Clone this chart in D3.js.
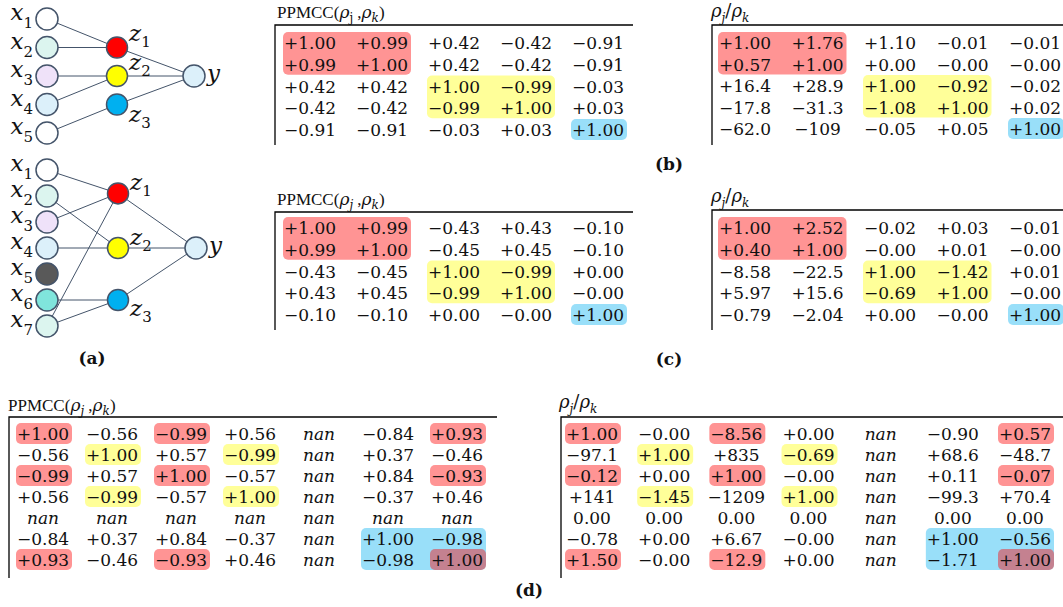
<!DOCTYPE html>
<html>
<head>
<meta charset="utf-8">
<script src="https://cdn.jsdelivr.net/npm/d3@7"></script>
<style>
  body { margin: 0; background: #fff; }
  svg { display: block; }
</style>
</head>
<body>
<div id="wrapper"></div>
<script>
// network (a): input subscripts, node fills, input->hidden edges
const topInputs = ["1", "2", "3", "4", "5"];
const topInputColors = ["#ffffff", "#dcf5ef", "#efe2f9", "#dcf0fa", "#ffffff"];
const topEdges = [[0, 0], [1, 0], [2, 1], [3, 1], [4, 2]];
const topHiddenRows = [1, 2, 3];
const topOutRow = 2;

const botInputs = ["1", "2", "3", "4", "5", "6", "7"];
const botInputColors = ["#ffffff", "#dcf5ef", "#efe2f9", "#dcf0fa", "#595959", "#80e5dc", "#dcf5ef"];
const botEdges = [[0, 0], [1, 1], [2, 0], [3, 1], [5, 2], [6, 0], [6, 2]];
const botHiddenRows = [0.9, 3, 5];
const botOutRow = 3;

const hiddenNames = ["1", "2", "3"];
const hiddenColors = ["#ff0000", "#ffff00", "#00b0f0"];
const outColor = "#dcf0fa";

// tables
const ppmccB = [
  ["+1.00", "+0.99", "+0.42", "-0.42", "-0.91"],
  ["+0.99", "+1.00", "+0.42", "-0.42", "-0.91"],
  ["+0.42", "+0.42", "+1.00", "-0.99", "-0.03"],
  ["-0.42", "-0.42", "-0.99", "+1.00", "+0.03"],
  ["-0.91", "-0.91", "-0.03", "+0.03", "+1.00"]
];
const ratioB = [
  ["+1.00", "+1.76", "+1.10", "-0.01", "-0.01"],
  ["+0.57", "+1.00", "+0.00", "-0.00", "-0.00"],
  ["+16.4", "+28.9", "+1.00", "-0.92", "-0.02"],
  ["-17.8", "-31.3", "-1.08", "+1.00", "+0.02"],
  ["-62.0", "-109", "-0.05", "+0.05", "+1.00"]
];
const ppmccC = [
  ["+1.00", "+0.99", "-0.43", "+0.43", "-0.10"],
  ["+0.99", "+1.00", "-0.45", "+0.45", "-0.10"],
  ["-0.43", "-0.45", "+1.00", "-0.99", "+0.00"],
  ["+0.43", "+0.45", "-0.99", "+1.00", "-0.00"],
  ["-0.10", "-0.10", "+0.00", "-0.00", "+1.00"]
];
const ratioC = [
  ["+1.00", "+2.52", "-0.02", "+0.03", "-0.01"],
  ["+0.40", "+1.00", "-0.00", "+0.01", "-0.00"],
  ["-8.58", "-22.5", "+1.00", "-1.42", "+0.01"],
  ["+5.97", "+15.6", "-0.69", "+1.00", "-0.00"],
  ["-0.79", "-2.04", "+0.00", "-0.00", "+1.00"]
];
const ppmccD = [
  ["+1.00", "-0.56", "-0.99", "+0.56", "nan", "-0.84", "+0.93"],
  ["-0.56", "+1.00", "+0.57", "-0.99", "nan", "+0.37", "-0.46"],
  ["-0.99", "+0.57", "+1.00", "-0.57", "nan", "+0.84", "-0.93"],
  ["+0.56", "-0.99", "-0.57", "+1.00", "nan", "-0.37", "+0.46"],
  ["nan", "nan", "nan", "nan", "nan", "nan", "nan"],
  ["-0.84", "+0.37", "+0.84", "-0.37", "nan", "+1.00", "-0.98"],
  ["+0.93", "-0.46", "-0.93", "+0.46", "nan", "-0.98", "+1.00"]
];
const ratioD = [
  ["+1.00", "-0.00", "-8.56", "+0.00", "nan", "-0.90", "+0.57"],
  ["-97.1", "+1.00", "+835", "-0.69", "nan", "+68.6", "-48.7"],
  ["-0.12", "+0.00", "+1.00", "-0.00", "nan", "+0.11", "-0.07"],
  ["+141", "-1.45", "-1209", "+1.00", "nan", "-99.3", "+70.4"],
  ["0.00", "0.00", "0.00", "0.00", "nan", "0.00", "0.00"],
  ["-0.78", "+0.00", "+6.67", "-0.00", "nan", "+1.00", "-0.56"],
  ["+1.50", "-0.00", "-12.9", "+0.00", "nan", "-1.71", "+1.00"]
];

// highlight blocks [row0, row1, col0, col1, colour]
const highlightBC = [[0, 1, 0, 1, "red"], [2, 3, 2, 3, "yellow"], [4, 4, 4, 4, "blue"]];
const highlightD = [
  [5, 6, 5, 6, "blue"],
  [0, 0, 0, 0, "red"], [0, 0, 2, 2, "red"], [0, 0, 6, 6, "red"],
  [2, 2, 0, 0, "red"], [2, 2, 2, 2, "red"], [2, 2, 6, 6, "red"],
  [6, 6, 0, 0, "red"], [6, 6, 2, 2, "red"], [6, 6, 6, 6, "red"],
  [1, 1, 1, 1, "yellow"], [1, 1, 3, 3, "yellow"], [3, 3, 1, 1, "yellow"], [3, 3, 3, 3, "yellow"]
];
const hlColors = { red: "#ff0000", yellow: "#ffff00", blue: "#00b0f0" };

const width = 1063, height = 607;
const svg = d3.select("#wrapper").append("svg")
  .attr("width", width)
  .attr("height", height);

const mathFont = "'DejaVu Serif', serif";
const strokeCol = "#44546a";

// ---------- networks ----------
function drawNet(cfg) {
  const g = svg.append("g");
  const layerX = d3.scaleLinear().domain([0, 1, 2]).range(cfg.layerX);
  const rowY = d3.scaleLinear().domain([0, cfg.inputs.length - 1]).range(cfg.rowRange);

  const inPos = cfg.inputs.map((d, i) => ({ x: layerX(0), y: rowY(i) }));
  const hidPos = cfg.hiddenRows.map(r => ({ x: layerX(1), y: rowY(r) }));
  const outPos = { x: layerX(2), y: rowY(cfg.outRow) };

  const lines = cfg.edges.map(([a, b]) => [inPos[a], hidPos[b]])
    .concat(hidPos.map(h => [h, outPos]));

  g.selectAll("line.edge").data(lines).join("line")
    .attr("x1", d => d[0].x).attr("y1", d => d[0].y)
    .attr("x2", d => d[1].x).attr("y2", d => d[1].y)
    .attr("stroke", strokeCol).attr("stroke-width", 1);

  g.selectAll("circle.in").data(inPos).join("circle")
    .attr("cx", d => d.x).attr("cy", d => d.y).attr("r", 11)
    .attr("fill", (d, i) => cfg.colors[i])
    .attr("stroke", strokeCol).attr("stroke-width", 1.5);

  g.selectAll("circle.hid").data(hidPos).join("circle")
    .attr("cx", d => d.x).attr("cy", d => d.y).attr("r", 10.5)
    .attr("fill", (d, i) => hiddenColors[i])
    .attr("stroke", strokeCol).attr("stroke-width", 1.5);

  g.append("circle")
    .attr("cx", outPos.x).attr("cy", outPos.y).attr("r", 11)
    .attr("fill", outColor)
    .attr("stroke", strokeCol).attr("stroke-width", 1.5);

  // labels
  const inLab = g.selectAll("text.in").data(cfg.inputs).join("text")
    .attr("x", 33).attr("y", (d, i) => inPos[i].y + 1)
    .attr("text-anchor", "end")
    .style("font-family", mathFont).style("font-style", "italic")
    .style("font-size", "23px").attr("fill", "#111");
  inLab.append("tspan").text("x");
  inLab.append("tspan").attr("dy", 8).style("font-size", "15px").style("font-style", "normal").text(d => d);

  const hLab = g.selectAll("text.hid").data(hiddenNames).join("text")
    .attr("x", (d, i) => hidPos[i].x + 12)
    .attr("y", (d, i) => hidPos[i].y + cfg.hiddenLabelDy[i])
    .style("font-family", mathFont).style("font-style", "italic")
    .style("font-size", "23px").attr("fill", "#111");
  hLab.append("tspan").text("z");
  hLab.append("tspan").attr("dy", 6).style("font-size", "15px").style("font-style", "normal").text(d => d);

  g.append("text")
    .attr("x", outPos.x + 13).attr("y", outPos.y + 5)
    .style("font-family", mathFont).style("font-style", "italic")
    .style("font-size", "23px").attr("fill", "#111")
    .text("y");
}

drawNet({
  inputs: topInputs, colors: topInputColors, edges: topEdges,
  hiddenRows: topHiddenRows, outRow: topOutRow,
  layerX: [47, 117, 194], rowRange: [19, 133], hiddenLabelDy: [-7, -6, 17]
});
drawNet({
  inputs: botInputs, colors: botInputColors, edges: botEdges,
  hiddenRows: botHiddenRows, outRow: botOutRow,
  layerX: [47, 118, 196], rowRange: [170, 326], hiddenLabelDy: [-3, -3, 16]
});

// ---------- tables ----------
const panels = [
  { data: ppmccB, title: "ppmcc", jItalic: false, hl: highlightBC,
    left: 275, right: 633, top: 25, bottom: 145, cols: [310, 598], rows: [43, 130], tx: 277, ty: 18 },
  { data: ratioB, title: "ratio", hl: highlightBC,
    left: 712, right: 1063, top: 25, bottom: 145, cols: [745, 1035], rows: [43, 129], tx: 711, ty: 17 },
  { data: ppmccC, title: "ppmcc", jItalic: true, hl: highlightBC,
    left: 275, right: 633, top: 212, bottom: 330, cols: [310, 598], rows: [228, 315], tx: 277, ty: 205 },
  { data: ratioC, title: "ratio", hl: highlightBC,
    left: 712, right: 1063, top: 210, bottom: 330, cols: [745, 1035], rows: [228, 315], tx: 711, ty: 202 },
  { data: ppmccD, title: "ppmcc", jItalic: true, hl: highlightD,
    left: 9, right: 497, top: 417, bottom: 578, cols: [43, 457], rows: [434, 560], tx: 8, ty: 411 },
  { data: ratioD, title: "ratio", hl: highlightD,
    left: 561, right: 1063, top: 417, bottom: 578, cols: [592, 1025], rows: [434, 560], tx: 559, ty: 408 }
];

panels.forEach(p => {
  const g = svg.append("g");
  const n = p.data.length;
  const x = d3.scalePoint().domain(d3.range(n)).range(p.cols);
  const y = d3.scalePoint().domain(d3.range(n)).range(p.rows);

  // highlight boxes
  g.selectAll("rect.hl").data(p.hl).join("rect")
    .attr("x", d => x(d[2]) - 27)
    .attr("y", d => y(d[0]) - 11)
    .attr("width", d => x(d[3]) - x(d[2]) + 56)
    .attr("height", d => y(d[1]) - y(d[0]) + 21)
    .attr("rx", 5)
    .attr("fill", d => hlColors[d[4]])
    .attr("fill-opacity", d => d[4] === "red" ? 0.42 : 0.4);

  // frame
  g.append("path")
    .attr("d", `M${p.left},${p.bottom}V${p.top}H${p.right}`)
    .attr("fill", "none").attr("stroke", "#000").attr("stroke-width", 1.3);

  // cells
  const cells = p.data.flatMap((row, r) => row.map((v, c) => ({ r, c, v })));
  g.selectAll("text.cell").data(cells).join("text")
    .attr("x", d => x(d.c))
    .attr("y", d => y(d.r) + 6)
    .attr("text-anchor", "middle")
    .style("font-family", mathFont)
    .style("font-size", "17px")
    .style("font-style", d => d.v === "nan" ? "italic" : "normal")
    .attr("fill", "#111")
    .text(d => d.v.replace("-", "\u2212"));

  // title
  const t = g.append("text").attr("x", p.tx).attr("y", p.ty).attr("fill", "#111");
  if (p.title === "ppmcc") {
    t.append("tspan").style("font-family", "'Liberation Serif', serif").style("font-size", "17px").text("PPMCC(");
    t.append("tspan").style("font-family", mathFont).style("font-style", "italic").style("font-size", "17px").text("\u03c1");
    t.append("tspan").attr("dy", 4).style("font-family", mathFont).style("font-size", "12px")
      .style("font-style", p.jItalic ? "italic" : "normal").text("j");
    t.append("tspan").attr("dy", -4).style("font-family", "'Liberation Serif', serif").style("font-size", "17px").text(" ,");
    t.append("tspan").style("font-family", mathFont).style("font-style", "italic").style("font-size", "17px").text("\u03c1");
    t.append("tspan").attr("dy", 4).style("font-family", mathFont).style("font-style", "italic").style("font-size", "12px").text("k");
    t.append("tspan").attr("dy", -4).style("font-family", "'Liberation Serif', serif").style("font-size", "17px").text(")");
  } else {
    t.style("font-family", mathFont).style("font-style", "italic");
    t.append("tspan").style("font-size", "18px").text("\u03c1");
    t.append("tspan").attr("dy", 5).style("font-size", "12px").text("j");
    t.append("tspan").attr("dy", -5).style("font-size", "18px").style("font-style", "normal").text("/");
    t.append("tspan").style("font-size", "18px").text("\u03c1");
    t.append("tspan").attr("dy", 5).style("font-size", "12px").text("k");
  }
});

// sub-figure labels
const subLabels = ["(a)", "(b)", "(c)", "(d)"];
const subPos = [[92, 364], [669, 170], [669, 365], [529, 596]];
svg.selectAll("text.sub").data(subLabels).join("text")
  .attr("x", (d, i) => subPos[i][0])
  .attr("y", (d, i) => subPos[i][1])
  .attr("text-anchor", "middle")
  .style("font-family", mathFont)
  .style("font-weight", "bold")
  .style("font-size", "17px")
  .attr("fill", "#111")
  .text(d => d);
</script>
</body>
</html>
